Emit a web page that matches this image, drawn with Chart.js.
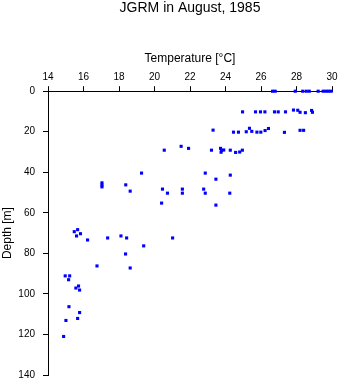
<!DOCTYPE html>
<html>
<head>
<meta charset="utf-8">
<script src="https://cdn.jsdelivr.net/npm/chart.js@4"></script>
<style>
  body { margin: 0; background: #fff; }
  #wrap { width: 341px; height: 384px; }
</style>
</head>
<body>
<div id="wrap"><canvas id="profileChart" width="341" height="384"></canvas></div>
<script>
// JGRM temperature profile, August 1985
const temperature = [
    26.65, 26.8, 27.93, 28.35, 28.55, 28.72, 29.22, 29.5, 29.65, 29.8, 29.95,
    24.96, 25.69, 25.97, 26.22, 26.76, 26.97, 27.38, 27.83, 28.07, 28.2, 28.5, 28.85, 28.9,
    23.3, 24.45, 24.73, 25.17, 25.35, 25.48, 25.77, 25.99, 26.23, 26.42, 27.32, 28.2, 28.4,
    20.55, 21.5, 21.92, 23.21, 23.72, 23.78, 23.75, 23.9, 24.27, 24.57, 24.8, 24.95,
    19.27, 17.04, 17.04, 17.04, 18.38, 18.63, 20.45, 20.73, 21.57, 21.57, 20.4,
    22.77, 22.86, 22.86, 23.46, 23.46, 24.27, 24.24,
    15.48, 15.67, 15.61, 15.83, 16.23, 17.36, 18.11, 18.43, 21.02, 19.39, 18.37, 16.76, 18.63,
    14.97, 15.22, 15.16, 15.57, 15.72, 15.78, 15.18, 15.78, 15.67, 15.01, 14.88
];
const depth = [
    0, 0, 0, 0, 0, 0, 0, 0, 0, 0, 0,
    10.2, 10.2, 10.2, 10.2, 10.2, 10.2, 10.2, 9.3, 9.4, 10.4, 10.6, 9.5, 10.4,
    19.2, 20.2, 20.2, 20.0, 18.3, 19.8, 20.2, 20.2, 19.4, 18.4, 20.3, 19.3, 19.3,
    29.1, 27.2, 28.2, 29.1, 28.2, 29.2, 30.1, 29.0, 29.1, 30.2, 30.0, 29.1,
    40.4, 45.2, 46.3, 47.2, 46.2, 49.3, 48.3, 50.3, 48.3, 50.3, 55.2,
    48.3, 40.4, 50.3, 43.4, 56.2, 41.4, 50.3,
    69.3, 68.3, 71.4, 70.3, 73.4, 72.4, 71.4, 72.4, 72.4, 76.3, 80.3, 86.2, 87.2,
    91.1, 91.1, 93.0, 97.1, 96.1, 98.1, 106.3, 109.2, 112.1, 113.1, 121.0
];
const tempTicks = [14, 16, 18, 20, 22, 24, 26, 28, 30];
const depthTicks = [0, 20, 40, 60, 80, 100, 120, 140];

const points = temperature.map((t, i) => ({ x: t, y: depth[i] }));

const family = 'Liberation Sans, Arial, sans-serif';
const tickFont = { family, size: 10 };
const labelFont = { family, size: 12 };

const ctx = document.getElementById('profileChart').getContext('2d');
new Chart(ctx, {
    type: 'scatter',
    data: {
        datasets: [{
            label: 'Temperature',
            data: points,
            backgroundColor: '#0000ff',
            borderWidth: 0,
            pointStyle: 'rect',
            pointRadius: 2.2,
            pointHoverRadius: 2.2,
            clip: false
        }]
    },
    options: {
        responsive: false,
        animation: false,
        layout: { padding: { left: 0, right: 9, top: 0, bottom: 9 } },
        scales: {
            x: {
                type: 'linear',
                position: 'top',
                min: tempTicks[0],
                max: tempTicks[tempTicks.length - 1],
                afterBuildTicks: axis => { axis.ticks = tempTicks.map(v => ({ value: v })); },
                afterFit: axis => { axis.paddingLeft = 0; axis.paddingRight = 0; },
                ticks: { color: '#000', font: tickFont, padding: 3, maxRotation: 0 },
                grid: { drawOnChartArea: false, drawTicks: true, tickLength: 5, color: '#000' },
                border: { display: true, color: '#000', width: 1 },
                title: { display: true, text: 'Temperature [°C]', color: '#000', font: labelFont, padding: { top: 0, bottom: 2 } }
            },
            y: {
                type: 'linear',
                reverse: true,
                min: depthTicks[0],
                max: depthTicks[depthTicks.length - 1],
                afterBuildTicks: axis => { axis.ticks = depthTicks.map(v => ({ value: v })); },
                afterFit: axis => { axis.paddingTop = 0; axis.paddingBottom = 0; axis.width = 48; },
                ticks: { color: '#000', font: tickFont, padding: 8 },
                grid: { drawOnChartArea: false, drawTicks: true, tickLength: 5, color: '#000' },
                border: { display: true, color: '#000', width: 1 },
                title: { display: true, text: 'Depth [m]', color: '#000', font: labelFont, padding: { top: 0, bottom: 0 } }
            }
        },
        plugins: {
            legend: { display: false },
            tooltip: { enabled: false },
            title: {
                display: true,
                fullSize: false,
                text: 'JGRM in August, 1985',
                color: '#000',
                font: { family, size: 14, weight: 'normal' },
                padding: { top: 0, bottom: 35 }
            }
        }
    }
});
</script>
</body>
</html>
